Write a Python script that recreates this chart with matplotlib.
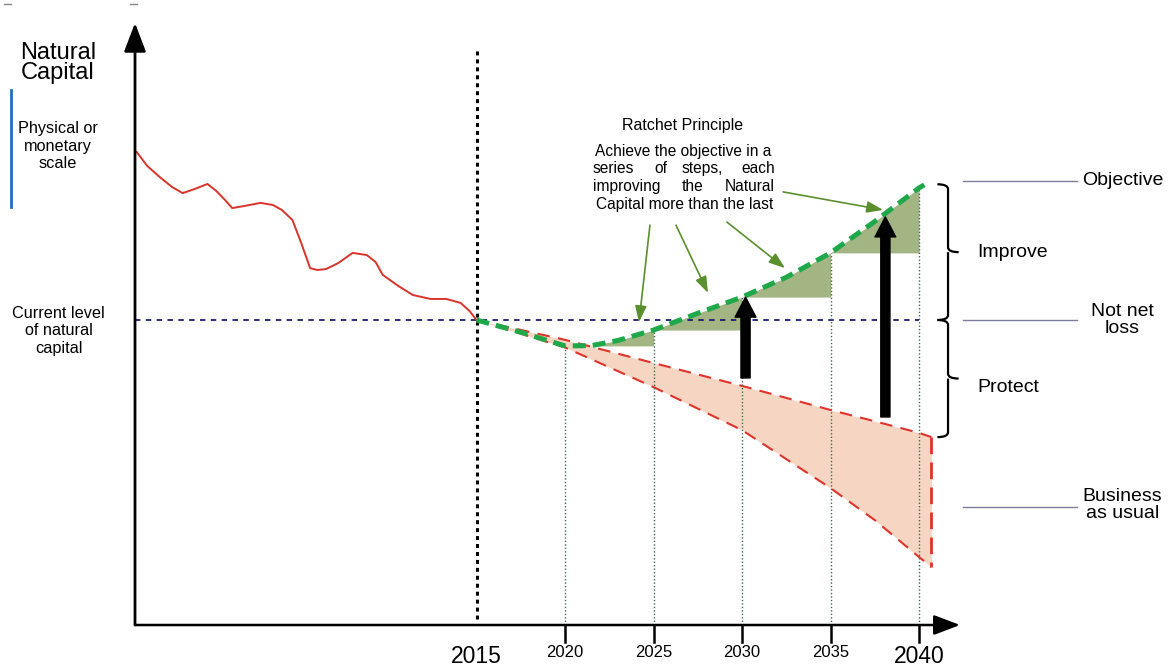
import numpy as np
import matplotlib
matplotlib.use('Agg')
import matplotlib.pyplot as plt
from matplotlib.path import Path
from matplotlib.patches import PathPatch

plt.rcParams['font.family'] = ['Liberation Sans', 'DejaVu Sans']

# Historical natural capital (index, current level = 100)
hist_years = [1995.8, 1996.4, 1997.1, 1997.8, 1998.4, 1999.1, 1999.8, 2000.3, 2000.8,
              2001.2, 2001.9, 2002.8, 2003.5, 2004.0, 2004.6, 2005.1, 2005.6, 2006.0,
              2006.5, 2007.2, 2008.0, 2008.8, 2009.3, 2009.7, 2010.6, 2011.4, 2012.4,
              2013.3, 2014.1, 2014.6, 2015.0]
hist_values = [155.1, 150.5, 146.9, 143.6, 141.6, 143.0, 144.6, 142.3, 139.3,
               136.7, 137.4, 138.4, 137.7, 136.1, 132.8, 125.2, 117.0, 116.4,
               116.7, 118.7, 122.0, 121.3, 119.0, 114.8, 111.1, 108.2, 106.9,
               106.9, 105.6, 103.0, 100.0]

# Objective pathway (ratchet)
obj_years = [2015, 2017.5, 2020, 2021.5, 2023, 2025, 2027.5, 2030, 2032.5, 2035, 2037.5, 2040, 2040.3]
obj_values = [100, 96.0, 91.5, 91.6, 93.3, 96.7, 102.2, 107.5, 114.0, 122.0, 132.3, 143.3, 144.3]

# Business as usual envelope
bau_years = [2015, 2020, 2025, 2030, 2035, 2037.5, 2040, 2040.7]
bau_upper = [100, 93.5, 85.9, 78.4, 70.5, 66.8, 63.0, 61.6]
bau_lower = [100, 91.0, 78.0, 63.9, 44.9, 34.4, 22.3, 19.0]

step_years = [2020, 2025, 2030, 2035, 2040]
current_level = 100
objective_level = 145.6
bau_level = 38.7

fig = plt.figure(figsize=(11.7, 6.7), dpi=100)
ax = fig.add_axes([0, 0, 1, 1])
px_per_year = 17.7
px_per_unit = 3.05
ax.set_xlim(2015 - 476.5 / px_per_year, 2015 + (1170 - 476.5) / px_per_year)
ax.set_ylim(-45 / px_per_unit, 625 / px_per_unit)
ax.axis('off')

x_axis0 = 2015 - (476.5 - 135) / px_per_year
x_axis1 = 2015 + (960 - 476.5) / px_per_year
y_top = (625 - 23) / px_per_unit

# axes with arrows
ax.annotate('', xy=(x_axis0, y_top), xytext=(x_axis0, 0),
            arrowprops=dict(arrowstyle='-|>,head_length=1.1,head_width=0.42', lw=2,
                            color='black', mutation_scale=16, shrinkA=0, shrinkB=0))
ax.annotate('', xy=(x_axis1, 0), xytext=(x_axis0, 0),
            arrowprops=dict(arrowstyle='-|>,head_length=1.0,head_width=0.38', lw=1.8,
                            color='black', mutation_scale=16, shrinkA=0, shrinkB=0))

# reference lines
ax.plot([2015, 2015], [2, (625 - 48) / px_per_unit], color='black', lw=2.2,
        linestyle=(0, (1.3, 1.3)))
ax.plot([x_axis0, 2040], [current_level, current_level], color='#1c1c6e', lw=1.3,
        linestyle=(0, (3, 3)))

# business as usual
ax.fill_between(bau_years, bau_lower, bau_upper, color='#f6d6c2', lw=0)
ax.plot(bau_years, bau_upper, color='#e0332b', lw=1.5, dashes=(6, 4))
ax.plot(bau_years, bau_lower, color='#e0332b', lw=1.5, dashes=(6, 4))
ax.plot([bau_years[-1]] * 2, [bau_upper[-1], bau_lower[-1]], color='#e0332b', lw=2,
        dashes=(6, 3))

# ratchet steps
obj_x = np.array(obj_years)
obj_y = np.array(obj_values)
for i in range(len(step_years) - 1):
    start, end = step_years[i], step_years[i + 1]
    base = obj_y[obj_x == start][0]
    m = (obj_x >= start) & (obj_x <= end)
    ax.fill_between(obj_x[m], base, obj_y[m], color='#a4b584', lw=0)

for yr in step_years:
    top = obj_y[obj_x == yr][0]
    ax.plot([yr, yr], [0, top], color='#3d6b55', lw=1, linestyle=(0, (1, 1.5)))
    ax.plot([yr, yr], [0, -17 / px_per_unit], color='black', lw=1.8)

ax.plot(hist_years, hist_values, color='#d9342b', lw=1.4)
ax.plot(obj_years, obj_values, color='#1fa84a', lw=3.6, dashes=(2.6, 1.4))

# black arrows
for xa, y0, y1 in [(2030.2, 81.0, 107.5), (2038.1, 68.2, 133.8)]:
    ax.annotate('', xy=(xa, y1), xytext=(xa, y0),
                arrowprops=dict(arrowstyle='simple,head_length=1.2,head_width=1.25,tail_width=0.55',
                                color='black', mutation_scale=12, shrinkA=0, shrinkB=0))

# ratchet principle text
ax.text(2026.66, 163.9, 'Ratchet Principle', ha='center', va='center', fontsize=11.5)
ax.text(2026.7, 155.4, 'Achieve the objective in a', ha='center', va='center', fontsize=11.2)
for word, xw, al in [('series', 2021.58, 'left'), ('of', 2025.4, 'center'),
                     ('steps,', 2027.74, 'center'), ('each', 2031.86, 'right')]:
    ax.text(xw, 149.8, word, ha=al, va='center', fontsize=11.2)
for word, xw, al in [('improving', 2021.58, 'left'), ('the', 2027.23, 'center'),
                     ('Natural', 2031.86, 'right')]:
    ax.text(xw, 143.9, word, ha=al, va='center', fontsize=11.2)
ax.text(2026.75, 138.0, 'Capital more than the last', ha='center', va='center', fontsize=11.2)

green_arrows = [((2024.8, 131.1), (2024.18, 99.3)),
                ((2026.27, 131.1), (2028.08, 108.9)),
                ((2029.15, 132.1), (2032.43, 117.0)),
                ((2032.32, 142.0), (2037.97, 136.1))]
for start, end in green_arrows:
    ax.annotate('', xy=end, xytext=start,
                arrowprops=dict(arrowstyle='-|>,head_length=0.7,head_width=0.25', lw=1.2,
                                color='#5a8f2e', mutation_scale=14, shrinkA=0, shrinkB=0))

# braces
def brace(ax, x, top, bottom, depth=0.6, hook=1.6):
    mid = (top + bottom) / 2
    verts = [(x - depth, top), (x, top), (x, top - hook),
             (x, mid + hook), (x, mid), (x + depth, mid),
             (x, mid), (x, mid - hook),
             (x, bottom + hook), (x, bottom), (x - depth, bottom)]
    codes = [Path.MOVETO, Path.CURVE3, Path.CURVE3,
             Path.LINETO, Path.CURVE3, Path.CURVE3,
             Path.MOVETO, Path.LINETO,
             Path.LINETO, Path.CURVE3, Path.CURVE3]
    ax.add_patch(PathPatch(Path(verts, codes), fill=False, lw=1.6, color='black'))

brace(ax, 2041.64, 144.5, current_level)
brace(ax, 2041.64, current_level, 61.6)

# right labels
for lvl in [objective_level, current_level, bau_level]:
    ax.plot([2042.5, 2048.9], [lvl, lvl], color='#7c7c9c', lw=1)
ax.text(2049.2, objective_level, 'Objective', ha='left', va='center', fontsize=14)
ax.text(2043.3, 122.0, 'Improve', ha='left', va='center', fontsize=14)
ax.text(2051.5, current_level, 'Not net\nloss', ha='center', va='center', fontsize=14,
        linespacing=0.95)
ax.text(2043.3, 78.0, 'Protect', ha='left', va='center', fontsize=14)
ax.text(2051.5, 39.3, 'Business\nas usual', ha='center', va='center', fontsize=14,
        linespacing=0.95)

# left labels
ax.text(1991.36, 184.3, 'Natural\nCapital', ha='center', va='center', fontsize=17,
        linespacing=0.9)
ax.plot([1988.7, 1988.7], [175.4, 137.0], color='#1f6fc8', lw=2)
ax.text(1991.36, 157.0, 'Physical or\nmonetary\nscale', ha='center', va='center',
        fontsize=11.7)
ax.text(1991.4, 96.4, 'Current level\nof natural\ncapital', ha='center', va='center',
        fontsize=11.7)

# tick labels
for yr in [2015] + step_years:
    big = yr in (2015, 2040)
    ax.text(yr, -10.2 if big else -8.9, str(yr), ha='center', va='center',
            fontsize=16.5 if big else 12)

# small marks at top
for xm in [1988.5, 1995.6]:
    ax.plot([xm - 0.2, xm + 0.2], [203.5, 203.5], color='#888888', lw=1)

fig.savefig('out.png', dpi=100)
